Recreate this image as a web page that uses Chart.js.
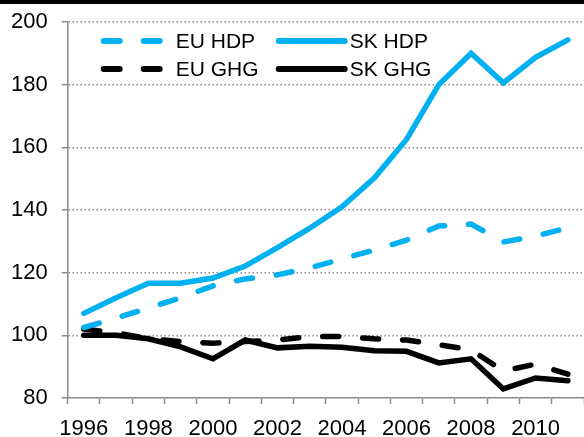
<!DOCTYPE html>
<html>
<head>
<meta charset="utf-8">
<script src="https://cdn.jsdelivr.net/npm/chart.js@4"></script>
<style>
  html, body { margin: 0; padding: 0; background: #fff; }
  #wrap { width: 584px; height: 437px; }
</style>
</head>
<body>
<div id="wrap"><canvas id="chart"></canvas></div>
<script>
const years = ['1996', '1997', '1998', '1999', '2000', '2001', '2002', '2003',
  '2004', '2005', '2006', '2007', '2008', '2009', '2010', '2011']
const euHdp = [102.5, 105.5, 108.7, 112, 115.8, 118, 119.3, 121.5, 124.4, 127.2, 130.4, 134.9, 135.5, 129.8, 131.7, 134.3]
const skHdp = [107, 112, 116.6, 116.6, 118.3, 122.1, 128, 134.2, 141, 150.2, 162.5, 180, 190, 180.6, 188.7, 194.3]
const euGhg = [102, 100.8, 99, 98, 97.5, 98, 98.5, 99.6, 99.6, 98.9, 98.5, 97, 95.4, 88.6, 90.8, 87.6]
const skGhg = [100, 100, 98.9, 96.3, 92.5, 98.5, 96, 96.5, 96.2, 95.1, 94.9, 91.2, 92.5, 82.9, 86.4, 85.5]

const BLUE = '#00B0F0'
const BLACK = '#000000'
const GREY = '#8c8c8c'
const FONT = "'Liberation Sans Narrow', 'Arial Narrow', 'Liberation Sans', Arial, sans-serif"
const DASH = [16, 24]

// legend drawn inside the plot, two columns
const legendInside = {
  id: 'legendInside',
  afterDraw(chart) {
    const ctx = chart.ctx
    const a = chart.chartArea
    const cols = [{ x0: 36, x1: 92, tx: 108 }, { x0: 211, x1: 277, tx: 282 }]
    const rows = [19, 47]
    ctx.save()
    chart.data.datasets.forEach((ds, i) => {
      const c = cols[i % 2]
      const y = a.top + rows[Math.floor(i / 2)]
      ctx.beginPath()
      ctx.lineWidth = 6
      ctx.lineCap = 'round'
      ctx.strokeStyle = ds.borderColor
      ctx.setLineDash(ds.borderDash || [])
      ctx.moveTo(a.left + c.x0, y)
      ctx.lineTo(a.left + c.x1, y)
      ctx.stroke()
      ctx.setLineDash([])
      ctx.fillStyle = '#000'
      ctx.font = '21px ' + FONT
      ctx.textBaseline = 'middle'
      ctx.textAlign = 'left'
      ctx.fillText(ds.label, a.left + c.tx, y + 1)
    })
    // black strip along the top edge
    ctx.fillStyle = '#000'
    ctx.fillRect(0, 0, chart.width, 4)
    ctx.restore()
  }
}

function line(label, data, color, dashed) {
  return {
    label,
    data,
    borderColor: color,
    backgroundColor: color,
    borderWidth: 5.5,
    borderDash: dashed ? DASH : [],
    borderCapStyle: 'round',
    pointRadius: 0,
    tension: 0,
    fill: false
  }
}

const scales = {
  x: {
    type: 'category',
    offset: true,
    afterFit: (s) => { s.height = 39 },
    grid: {
      offset: true,
      drawOnChartArea: false,
      drawTicks: true,
      tickLength: 6,
      tickColor: GREY,
      tickWidth: 1.5
    },
    border: { display: true, color: GREY, width: 1.5 },
    ticks: {
      autoSkip: false,
      maxRotation: 0,
      padding: 16,
      color: '#000',
      font: { family: FONT, size: 22, lineHeight: 0.85 },
      callback: (v, i) => (i % 2 === 0 ? years[i] : '')
    }
  },
  y: {
    min: 80,
    max: 200,
    afterFit: (s) => { s.paddingTop = 0; s.paddingBottom = 0 },
    grid: {
      color: (c) => (c.tick.value === 80 ? 'rgba(0,0,0,0)' : GREY),
      lineWidth: 1.5,
      drawTicks: true,
      tickLength: 6,
      tickColor: GREY,
      tickWidth: 1.5
    },
    border: { display: true, color: GREY, width: 1.5, dash: [1.5, 2.5] },
    ticks: {
      stepSize: 20,
      padding: 14,
      color: '#000',
      font: { family: FONT, size: 22, lineHeight: 1 }
    }
  }
}

const ctx = document.getElementById('chart')
new Chart(ctx, {
  type: 'line',
  data: {
    labels: years,
    datasets: [
      line('EU HDP', euHdp, BLUE, true),
      line('SK HDP', skHdp, BLUE, false),
      line('EU GHG', euGhg, BLACK, true),
      line('SK GHG', skGhg, BLACK, false)
    ]
  },
  options: {
    responsive: true,
    maintainAspectRatio: false,
    animation: false,
    layout: { padding: { left: -3, right: 0, top: 22, bottom: 0 } },
    scales,
    plugins: {
      legend: { display: false },
      tooltip: { enabled: false }
    }
  },
  plugins: [legendInside]
})
</script>
</body>
</html>
